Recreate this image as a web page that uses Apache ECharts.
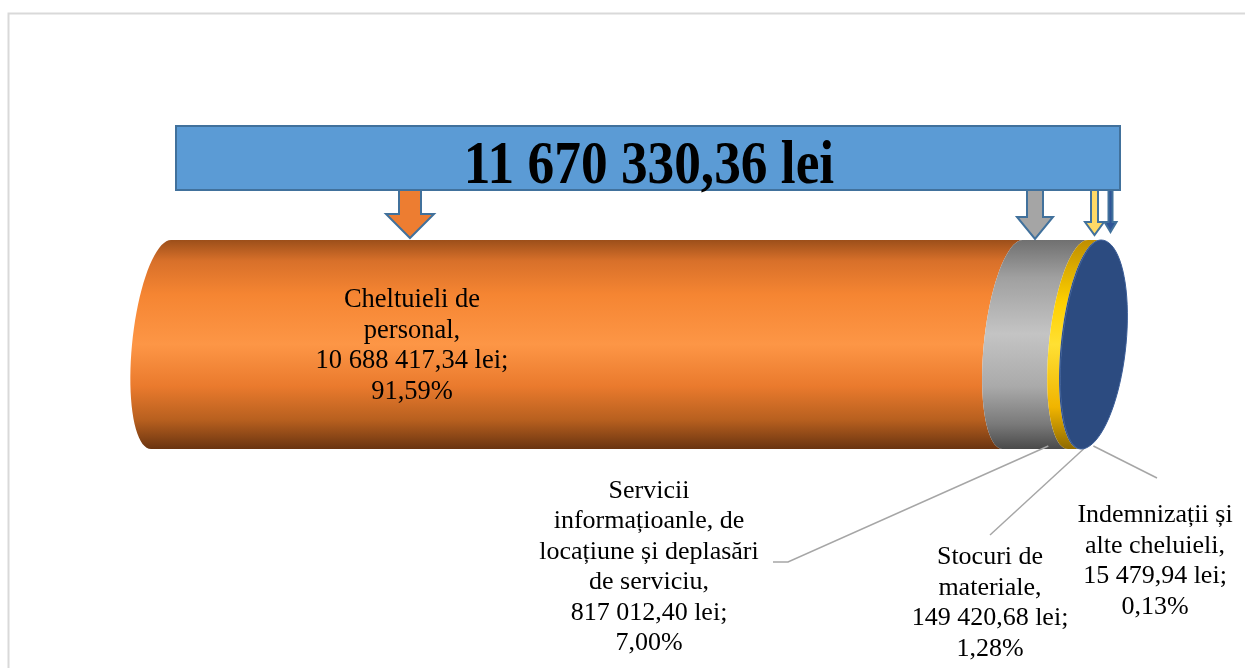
<!DOCTYPE html>
<html>
<head>
<meta charset="utf-8">
<style>
  html, body { margin: 0; padding: 0; background: #fff; }
  #chart { width: 1245px; height: 668px; }
</style>
<script src="https://cdn.jsdelivr.net/npm/echarts@6/dist/echarts.min.js"></script>
</head>
<body>
<div id="chart"></div>
<script>
// data
const categories = [
  'Cheltuieli de\npersonal',
  'Servicii\ninformațioanle, de\nlocațiune și deplasări\nde serviciu',
  'Stocuri de\nmateriale',
  'Indemnizații și\nalte cheluieli'
];
const amounts = [10688417.34, 817012.40, 149420.68, 15479.94];
const percents = [91.59, 7.00, 1.28, 0.13];

const total = amounts.reduce((a, b) => a + b, 0);

const fmtMoney = v => {
  const [i, d] = v.toFixed(2).split('.');
  return i.replace(/\B(?=(\d{3})+(?!\d))/g, ' ') + ',' + d;
};
const fmtPct = v => v.toFixed(2).replace('.', ',') + '%';

// cylinder look
const RX = 29;        // half width of the boundary ellipses
const RX_FACE = 35;   // right half of the end face (perspective)
const SHIFT = 10;     // tilt of the ellipses
const FONT = '"Liberation Serif", "Times New Roman", serif';

const segGradients = [
  [['#9c4f1a', 0], ['#d8702a', 0.1], ['#f58532', 0.26], ['#fd9646', 0.5], ['#ea7a2d', 0.7], ['#b8601f', 0.86], ['#6a3410', 1]],
  [['#707070', 0], ['#a0a0a0', 0.18], ['#c4c4c4', 0.45], ['#aaaaaa', 0.7], ['#7a7a7a', 0.88], ['#4a4a4a', 1]],
  [['#bf8e00', 0], ['#ffd000', 0.3], ['#ffe033', 0.5], ['#f0b400', 0.8], ['#8f6a00', 1]],
  [['#2b4a80', 0], ['#2b4a80', 1]]
];
const faceColor = '#2c4b80';

// label boxes and leader line ends (pixels)
const labelLayout = [
  { x: 412, y: 346, size: 26.5 },
  { x: 649, y: 567, size: 26, line: [[788, 562], [773, 562]] },
  { x: 990, y: 603, size: 26, line: [[990, 535]] },
  { x: 1155, y: 561, size: 26, line: [[1157, 478]] }
];

// decorative arrows under the banner
const arrows = [
  { cx: 410, shaft: 22, head: 48, headY: 214, tip: 238, fill: '#ed7d31' },
  { cx: 1035, shaft: 16, head: 36, headY: 217, tip: 239, fill: '#a5a5a5' },
  { cx: 1094.5, shaft: 7, head: 19, headY: 222, tip: 235, fill: '#ffd966' },
  { cx: 1110.5, shaft: 4, head: 12, headY: 222, tip: 232, fill: '#2f5597' }
];

const segData = [];
let acc = 0;
amounts.forEach((v, i) => {
  segData.push([acc, acc + v, i]);
  acc += v;
});

function halfEdge(cx, cy, rx, ry, topToBottom) {
  const pts = [];
  const N = 40;
  for (let i = 0; i <= N; i++) {
    const t = -Math.PI / 2 - Math.PI * i / N;
    pts.push([cx + rx * Math.cos(t) - SHIFT * Math.sin(t), cy + ry * Math.sin(t)]);
  }
  return topToBottom ? pts : pts.reverse();
}

function rightEdge(cx, cy, rx, ry) {
  const pts = [];
  const N = 40;
  for (let i = 0; i <= N; i++) {
    const t = Math.PI / 2 - Math.PI * i / N;
    pts.push([cx + rx * Math.cos(t) - SHIFT * Math.sin(t), cy + ry * Math.sin(t)]);
  }
  return pts;
}

function renderSegment(params, api) {
  const idx = api.value(2);
  const s = api.coord([api.value(0), 0]);
  const e = api.coord([api.value(1), 0]);
  const cy = s[1];
  const ry = api.size([0, 1])[1];
  const stops = segGradients[idx].map(([c, o]) => ({ offset: o, color: c }));
  const children = [{
    type: 'polygon',
    shape: { points: halfEdge(s[0], cy, RX, ry, true).concat(halfEdge(e[0], cy, RX, ry, false)) },
    style: { fill: new echarts.graphic.LinearGradient(0, 0, 0, 1, stops) }
  }];
  if (idx === amounts.length - 1) {
    children.push({
      type: 'polygon',
      shape: { points: halfEdge(e[0], cy, RX, ry, true).concat(rightEdge(e[0], cy, RX_FACE, ry)) },
      style: { fill: faceColor, stroke: '#3a5c96', lineWidth: 1 }
    });
  }
  const lay = labelLayout[idx];
  if (lay.line) {
    const m = api.coord([(api.value(0) + api.value(1)) / 2, 0]);
    const pts = [[m[0] + 3, cy + ry - 3]].concat(lay.line);
    children.push({
      type: 'polyline',
      shape: { points: pts },
      style: { stroke: '#a6a6a6', lineWidth: 1.5, fill: null }
    });
  }
  children.push({
    type: 'text',
    x: lay.x,
    y: lay.y,
    style: {
      text: categories[idx] + ',\n' + fmtMoney(amounts[idx]) + ' lei;\n' + fmtPct(percents[idx]),
      fill: '#000',
      fontSize: lay.size,
      fontFamily: FONT,
      lineHeight: 30.5,
      align: 'center',
      verticalAlign: 'middle'
    }
  });
  return { type: 'group', children };
}

const arrowShapes = arrows.map(a => ({
  type: 'polygon',
  z: 10,
  shape: {
    points: [
      [a.cx - a.shaft / 2, 188], [a.cx + a.shaft / 2, 188],
      [a.cx + a.shaft / 2, a.headY], [a.cx + a.head / 2, a.headY],
      [a.cx, a.tip],
      [a.cx - a.head / 2, a.headY], [a.cx - a.shaft / 2, a.headY]
    ]
  },
  style: { fill: a.fill, stroke: '#41719c', lineWidth: 2 }
}));

const chart = echarts.init(document.getElementById('chart'));
chart.setOption({
  animation: false,
  grid: { left: 161, right: 154, top: 240, bottom: 219 },
  xAxis: { type: 'value', min: 0, max: total, show: false },
  yAxis: { type: 'value', min: -1, max: 1, show: false },
  graphic: [
    {
      type: 'rect', z: 0,
      shape: { x: 8.5, y: 13.5, width: 1260, height: 700 },
      style: { fill: null, stroke: '#d9d9d9', lineWidth: 2 }
    },
    ...arrowShapes,
    {
      type: 'rect', z: 11,
      shape: { x: 176, y: 126, width: 944, height: 64 },
      style: { fill: '#5b9bd5', stroke: '#41719c', lineWidth: 2 }
    },
    {
      type: 'text', z: 12,
      x: 649, y: 167, scaleX: 0.86,
      style: {
        text: fmtMoney(total) + ' lei',
        fill: '#000',
        font: 'bold 62px ' + FONT,
        align: 'center',
        verticalAlign: 'middle'
      }
    }
  ],
  series: [{
    type: 'custom',
    renderItem: renderSegment,
    data: segData,
    silent: true
  }]
});
</script>
</body>
</html>
